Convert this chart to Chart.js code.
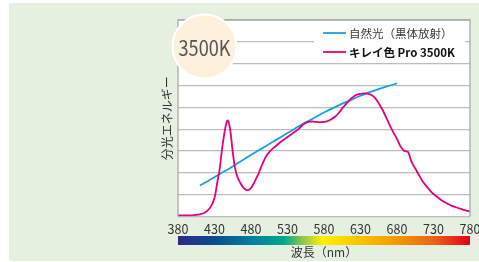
<!DOCTYPE html>
<html lang="ja">
<head>
<meta charset="utf-8">
<title>3500K 分光分布</title>
<script src="https://cdn.jsdelivr.net/npm/chart.js@4/dist/chart.umd.min.js"></script>
<style>
  html, body { margin: 0; padding: 0; background: #fff; }
  #wrap { width: 479px; height: 262px; }
</style>
</head>
<body>
<div id="wrap"><canvas id="spectrumChart" width="479" height="262"></canvas></div>
<script>
// ========================================
// 分光分布 - キレイ色 Pro 3500K
// ========================================

const FONT = '"Noto Sans CJK JP", "Noto Sans", sans-serif';

// 目盛り
const xTicks = [380, 430, 480, 530, 580, 630, 680, 730, 780];

// キレイ色 Pro 3500K（相対値）
const proNm = [380, 385, 390, 395, 400, 405, 410, 415, 420, 425, 430, 434, 437, 440, 443, 446, 448, 450, 452, 455, 458, 461, 465, 470, 475, 480, 485, 490, 495, 500, 505, 510, 515, 520, 525, 530, 535, 540, 545, 550, 555, 560, 565, 570, 575, 580, 585, 590, 595, 600, 605, 610, 615, 620, 625, 630, 635, 640, 645, 650, 655, 660, 665, 670, 675, 680, 685, 690, 695, 700, 705, 710, 715, 720, 725, 730, 735, 740, 745, 750, 755, 760, 765, 770, 775, 780];
const proVal = [0.05, 0.05, 0.05, 0.05, 0.05, 0.07, 0.1, 0.15, 0.26, 0.45, 0.85, 1.6, 2.15, 3.0, 3.7, 4.25, 4.4, 4.25, 3.85, 2.95, 2.25, 1.85, 1.56, 1.3, 1.21, 1.3, 1.6, 1.94, 2.35, 2.72, 2.95, 3.12, 3.25, 3.4, 3.52, 3.64, 3.76, 3.88, 4.0, 4.17, 4.28, 4.34, 4.35, 4.33, 4.32, 4.33, 4.37, 4.45, 4.57, 4.73, 4.95, 5.15, 5.33, 5.48, 5.58, 5.62, 5.64, 5.63, 5.56, 5.42, 5.18, 4.9, 4.55, 4.18, 3.85, 3.55, 3.2, 3.0, 2.96, 2.5, 2.2, 1.9, 1.62, 1.4, 1.2, 1.03, 0.9, 0.77, 0.66, 0.57, 0.49, 0.43, 0.37, 0.32, 0.27, 0.23];

// 自然光（黒体放射）
const bbNm = [410, 420, 430, 440, 450, 460, 470, 480, 490, 500, 510, 520, 530, 540, 550, 560, 570, 580, 590, 600, 610, 620, 630, 640, 650, 660, 670, 680];
const bbVal = [1.42, 1.6, 1.8, 2.0, 2.19, 2.4, 2.61, 2.82, 3.02, 3.22, 3.42, 3.62, 3.82, 4.02, 4.22, 4.4, 4.58, 4.76, 4.93, 5.09, 5.24, 5.39, 5.53, 5.66, 5.78, 5.89, 6.0, 6.1];

// スペクトル帯の色
const bandNm = [380, 430, 480, 525, 550, 578, 630, 680, 730, 780];
const bandColors = ['#2e2a84', '#0c4c8e', '#007f9c', '#00a88c', '#8cc44e', '#fff000', '#f8c400', '#f29a00', '#ea6418', '#e3001c'];

const toPoints = (xs, ys) => xs.map((x, i) => ({ x: x, y: ys[i] }));

// 背景・枠・スペクトル帯・凡例・色温度バッジ
const decoPlugin = {
  id: 'deco',
  beforeDraw(chart) {
    const { ctx, chartArea: a } = chart;
    ctx.save();
    ctx.fillStyle = '#fff';
    ctx.fillRect(0, 0, chart.width, chart.height);
    ctx.fillStyle = '#e6f0e0';
    ctx.fillRect(9, 3, chart.width - 9, chart.height - 4);
    ctx.fillStyle = '#fff';
    ctx.fillRect(a.left, a.top, a.right - a.left, a.bottom - a.top);
    ctx.restore();
  },
  afterDatasetsDraw(chart) {
    const { ctx, chartArea: a, scales } = chart;
    const xs = scales.x;
    ctx.save();

    // 枠
    ctx.strokeStyle = '#a9a9a9';
    ctx.lineWidth = 1.3;
    ctx.beginPath();
    ctx.moveTo(a.left, a.bottom);
    ctx.lineTo(a.left, a.top);
    ctx.lineTo(a.right, a.top);
    ctx.lineTo(a.right, a.bottom);
    ctx.stroke();

    // スペクトル帯
    const x0 = xs.getPixelForValue(380), x1 = xs.getPixelForValue(780);
    const grad = ctx.createLinearGradient(x0, 0, x1, 0);
    bandNm.forEach((nm, i) => grad.addColorStop((nm - 380) / 400, bandColors[i]));
    ctx.fillStyle = grad;
    ctx.fillRect(x0, a.bottom + 19.5, x1 - x0, 9);

    // 凡例
    ctx.fillStyle = '#fff';
    ctx.fillRect(314, a.top + 1.5, 151, 38);
    const rows = [
      { ds: chart.data.datasets[1], y: 33, font: '11.5px ' + FONT, color: '#3a3a3a' },
      { ds: chart.data.datasets[0], y: 52, font: 'bold 11.5px ' + FONT, color: '#111' }
    ];
    rows.forEach(r => {
      ctx.strokeStyle = r.ds.borderColor;
      ctx.lineWidth = 1.8;
      ctx.beginPath();
      ctx.moveTo(323, r.y);
      ctx.lineTo(346, r.y);
      ctx.stroke();
      ctx.font = r.font;
      ctx.fillStyle = r.color;
      ctx.textBaseline = 'middle';
      ctx.fillText(r.ds.label, 349, r.y + 0.5);
    });

    // 3500K バッジ
    ctx.beginPath();
    ctx.arc(204.5, 46.5, 32, 0, Math.PI * 2);
    ctx.fillStyle = '#fdf0dc';
    ctx.fill();
    ctx.lineWidth = 2;
    ctx.strokeStyle = '#fff';
    ctx.stroke();
    ctx.font = '21px ' + FONT;
    ctx.fillStyle = '#555';
    ctx.textAlign = 'center';
    ctx.textBaseline = 'middle';
    ctx.fillText('3500K', 204.5, 48, 52);

    ctx.restore();
  }
};

const ctx = document.getElementById('spectrumChart').getContext('2d');
const spectrumChart = new Chart(ctx, {
  type: 'line',
  data: {
    datasets: [
      {
        label: 'キレイ色 Pro 3500K',
        data: toPoints(proNm, proVal),
        borderColor: '#e4007f',
        borderWidth: 1.8,
        pointRadius: 0,
        tension: 0.3,
        fill: false
      },
      {
        label: '自然光（黒体放射）',
        data: toPoints(bbNm, bbVal),
        borderColor: '#17a0e0',
        borderWidth: 1.8,
        pointRadius: 0,
        tension: 0.3,
        fill: false
      }
    ]
  },
  options: {
    responsive: false,
    animation: false,
    layout: { padding: { left: 155.6, top: 20, right: 9, bottom: 0 } },
    plugins: {
      legend: { display: false },
      tooltip: { enabled: false }
    },
    scales: {
      x: {
        type: 'linear',
        min: 380,
        max: 780,
        afterBuildTicks: (scale) => { scale.ticks = xTicks.map(v => ({ value: v })); },
        afterFit: (scale) => {
          scale.paddingRight = 0;
          scale.paddingLeft = 0;
          scale.height = 45.5;
        },
        ticks: {
          color: '#333',
          padding: 5,
          font: { family: FONT, size: 12.5 },
          maxRotation: 0,
          autoSkip: false
        },
        grid: { display: false, drawTicks: false },
        border: { display: false },
        title: {
          display: true,
          text: '波長（nm）',
          color: '#333',
          font: { family: FONT, size: 12 },
          padding: { top: 4, bottom: 2.8 }
        }
      },
      y: {
        min: 0,
        max: 9,
        ticks: { display: false, stepSize: 1 },
        grid: { color: '#bdbdbd', lineWidth: 1.3, drawTicks: false },
        border: { display: false },
        title: {
          display: true,
          text: '分光エネルギー',
          color: '#333',
          font: { family: FONT, size: 12 },
          padding: { top: 5, bottom: 3 }
        }
      }
    }
  },
  plugins: [decoPlugin]
});
</script>
</body>
</html>
